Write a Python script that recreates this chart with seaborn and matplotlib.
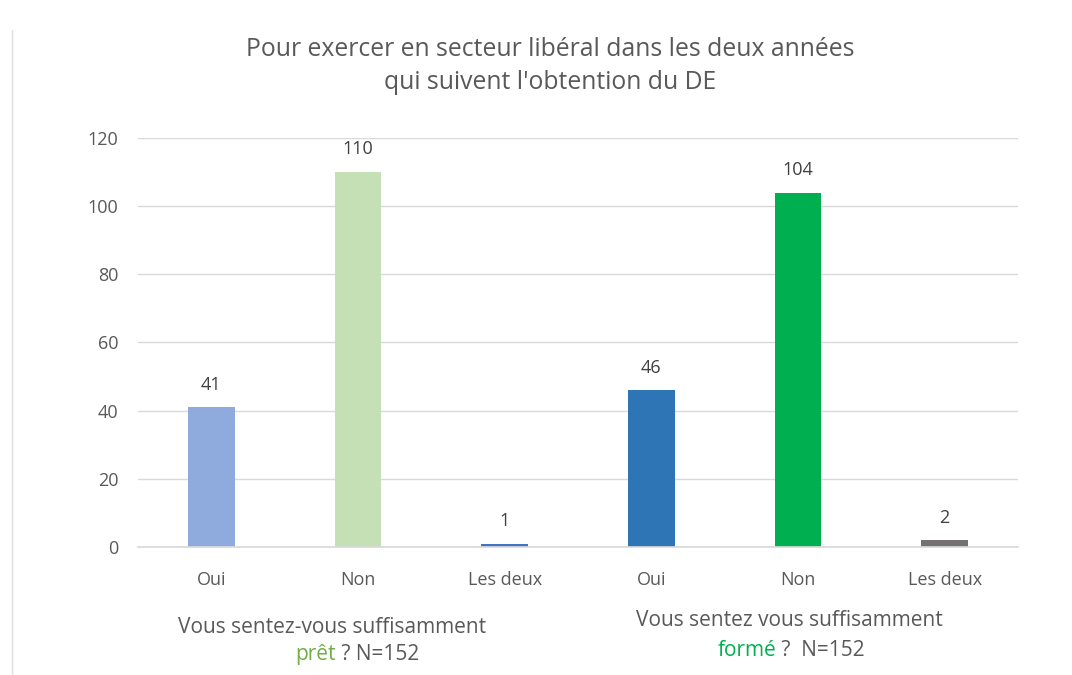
import matplotlib
matplotlib.use("Agg")
import matplotlib.pyplot as plt
import seaborn as sns
import pandas as pd

# data
cles = ["oui_pret", "non_pret", "deux_pret", "oui_forme", "non_forme", "deux_forme"]
etiquettes = ["Oui", "Non", "Les deux", "Oui", "Non", "Les deux"]
valeurs = [41, 110, 1, 46, 104, 2]
couleurs = ["#8FAADC", "#C5E0B4", "#4472C4", "#2E75B6", "#00B050", "#767171"]

df = pd.DataFrame({"cle": cles, "valeur": valeurs})

sns.set_theme(style="white")
plt.rcParams["font.family"] = ["Open Sans", "DejaVu Sans"]
gris = "#595959"

fig = plt.figure(figsize=(10.72, 6.75), dpi=100)
ax = fig.add_axes([0.1287, 0.1896, 0.8209, 0.606])

sns.barplot(data=df, x="cle", y="valeur", hue="cle", palette=couleurs,
            width=0.32, legend=False, ax=ax, saturation=1, linewidth=0)

ax.set_ylim(0, 120)
ax.set_xlim(-0.5, 5.5)
ax.set_yticks(range(0, 121, 20))
ax.yaxis.grid(True, color="#D9D9D9", linewidth=1)
ax.set_axisbelow(True)
for s in ["top", "right", "left"]:
    ax.spines[s].set_visible(False)
ax.spines["bottom"].set_color("#D9D9D9")
ax.set_xticks(range(len(etiquettes)))
ax.set_xticklabels(etiquettes)
ax.tick_params(axis="both", colors=gris, labelsize=13, length=0)
ax.tick_params(axis="x", pad=17)
ax.tick_params(axis="y", pad=14)
ax.set_xlabel("")
ax.set_ylabel("")

for i, v in enumerate(valeurs):
    ax.text(i, v + 4, str(v), ha="center", va="bottom", fontsize=13, color="#404040")

fig.text(0.513, 0.902, "Pour exercer en secteur libéral dans les deux années\nqui suivent l'obtention du DE",
         ha="center", va="center", fontsize=17.8, color=gris, linespacing=1.45)

# sous-titres
fig.text(0.310, 0.071, "Vous sentez-vous suffisamment", ha="center", va="center",
         fontsize=15, color=gris)
t1 = fig.text(0.313, 0.030, "prêt", ha="right", va="center", fontsize=15, color="#70AD47")
ax.annotate(" ? N=152", xy=(1, 0), xycoords=t1, va="bottom", ha="left",
            fontsize=15, color=gris)

fig.text(0.736, 0.081, "Vous sentez vous suffisamment", ha="center", va="center",
         fontsize=15, color=gris)
t2 = fig.text(0.724, 0.037, "formé", ha="right", va="center", fontsize=15, color="#00B050")
ax.annotate(" ?  N=152", xy=(1, 0), xycoords=t2, va="bottom", ha="left",
            fontsize=15, color=gris)

# bordure gauche
fig.add_artist(plt.Line2D([0.011, 0.011], [0, 0.955], color="#E0E0E0", linewidth=1))

fig.savefig("out.png", dpi=100)
